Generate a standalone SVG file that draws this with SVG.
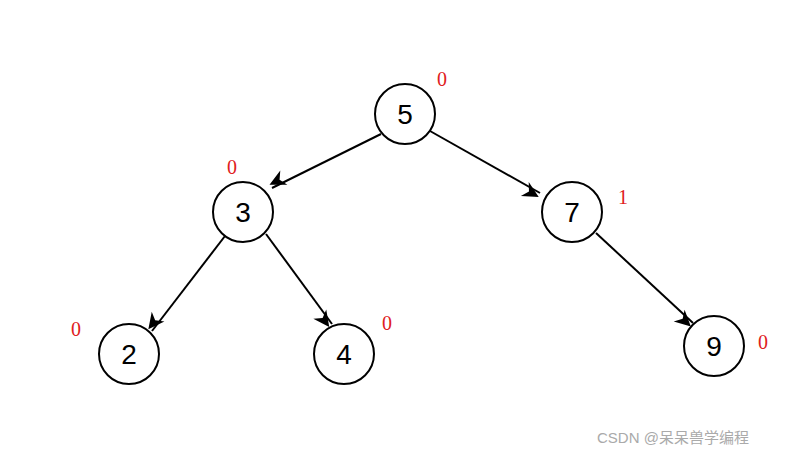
<svg xmlns="http://www.w3.org/2000/svg" width="805" height="455" viewBox="0 0 805 455">
<style>
.n{fill:#fff;stroke:#000;stroke-width:2}
.t{font-family:"Liberation Sans",Arial,sans-serif;font-size:28px;text-anchor:middle;fill:#000}
.b{font-family:"Liberation Serif",serif;font-size:20px;fill:#e02020}
.e{stroke:#000;stroke-width:2;fill:none;marker-end:url(#a)}
</style>
<defs><marker id="a" viewBox="0 0 10 10" refX="9" refY="5" markerWidth="8" markerHeight="8" markerUnits="userSpaceOnUse" orient="auto" style="overflow:visible"><path d="M0,0 L10,5 L0,10 L3,5 Z" transform="scale(2) translate(-5,0)"/></marker></defs>
<rect width="805" height="455" fill="#fff"/>
<g id="edges">
<line class="e" x1="381" y1="134" x2="272" y2="188"/>
<line class="e" x1="430" y1="131" x2="540" y2="193"/>
<line class="e" x1="225" y1="236" x2="152" y2="331"/>
<line class="e" x1="266" y1="234" x2="332" y2="324"/>
<line class="e" x1="596" y1="233" x2="693" y2="323"/>
</g>
<g id="n5"><circle class="n" cx="405" cy="114" r="30"/><text class="t" x="405" y="124">5</text></g>
<g id="n3"><circle class="n" cx="243" cy="212" r="30"/><text class="t" x="243" y="222">3</text></g>
<g id="n7"><circle class="n" cx="572" cy="212" r="30"/><text class="t" x="572" y="222">7</text></g>
<g id="n2"><circle class="n" cx="129" cy="354" r="30"/><text class="t" x="129" y="364">2</text></g>
<g id="n4"><circle class="n" cx="344" cy="354" r="30"/><text class="t" x="344" y="364">4</text></g>
<g id="n9"><circle class="n" cx="714" cy="346" r="30"/><text class="t" x="714" y="356">9</text></g>
<g id="labels">
<text class="b" x="437" y="86">0</text>
<text class="b" x="227" y="174">0</text>
<text class="b" x="618" y="204">1</text>
<text class="b" x="71" y="336">0</text>
<text class="b" x="382" y="330">0</text>
<text class="b" x="758" y="349">0</text>
</g>
<text x="597" y="443" style="font-family:'Liberation Sans','Noto Sans CJK SC',sans-serif;font-size:15px;fill:#aaa">CSDN @呆呆兽学编程</text>
</svg>
